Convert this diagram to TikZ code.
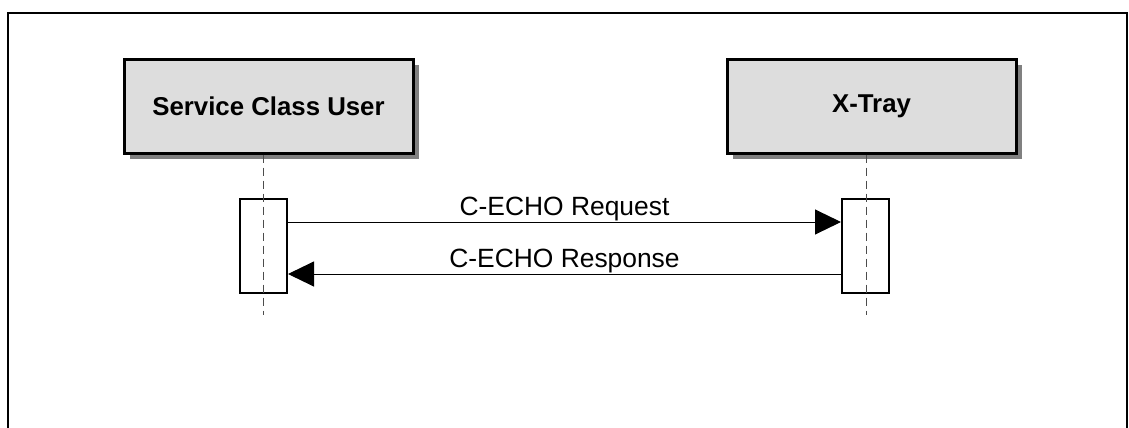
\documentclass[tikz,border=0pt]{standalone}
\usepackage{fontspec}
\setmainfont{Liberation Sans}
\usetikzlibrary{arrows.meta}
\usetikzlibrary{shadows}
\definecolor{boxgray}{RGB}{221,221,221}
\definecolor{shadowgray}{RGB}{128,128,128}
\newcommand{\diagfont}{\fontsize{12.9}{15}\selectfont}
\newcommand{\msgfont}{\fontsize{13.2}{15}\selectfont}
\tikzset{
  actor/.style={draw, line width=1.5pt, fill=boxgray, minimum width=144.5pt, minimum height=47pt,
    font=\diagfont\bfseries, drop shadow={shadow xshift=3pt, shadow yshift=-3pt, fill=shadowgray, opacity=1}},
  activation/.style={draw, line width=1pt, minimum width=23.5pt, minimum height=47pt},
  lifeline/.style={dash pattern=on 4pt off 2.5pt, line width=0.5pt, black!70},
  message/.style={-{Triangle[length=13pt,width=12.5pt]}, line width=0.5pt},
  msglabel/.style={anchor=base, yshift=3.5pt, inner sep=0pt, font=\msgfont}
}
\begin{document}
\begin{tikzpicture}[x=0.5pt,y=-0.5pt]
  \useasboundingbox (0,0) rectangle (1129,428);
  % outer frame, open at the bottom
  \draw[line width=1pt] (8,428) -- (8,13) -- (1127,13) -- (1127,428);
  % participants
  \node[actor] (user) at (268.5,106) {Service Class User};
  \node[actor] (xtray) at (871.5,106) {X-Tray};
  \coordinate (userend) at (263,315);
  \coordinate (xtrayend) at (866,315);
  % activations
  \node[activation] (useract) at (263.5,246) {};
  \node[activation] (xtrayact) at (865.5,246) {};
  \draw[lifeline] (userend |- user.south) -- (userend);
  \draw[lifeline] (xtrayend |- xtray.south) -- (xtrayend);
  % messages
  \draw[message] ([yshift=12pt]useract.east) -- node[msglabel] {C-ECHO Request} ([yshift=12pt]xtrayact.west);
  \draw[message] ([yshift=-14pt]xtrayact.west) -- node[msglabel] {C-ECHO Response} ([yshift=-14pt]useract.east);
\end{tikzpicture}
\end{document}
